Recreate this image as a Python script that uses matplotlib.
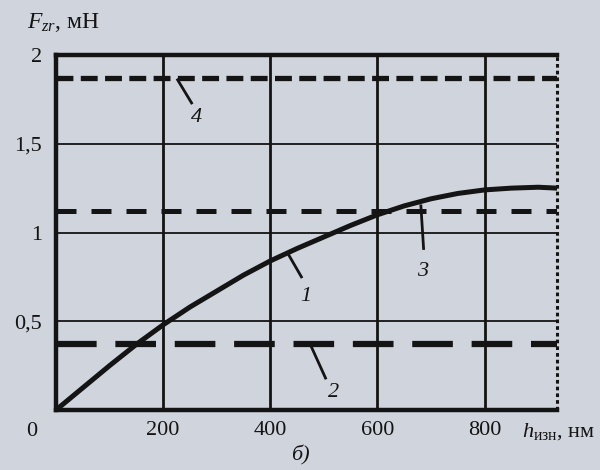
"""
Зависимость силы F_zr от глубины износа h_изн (рис. б)
"""

import matplotlib
matplotlib.use('Agg')
import matplotlib.pyplot as plt
import numpy as np

plt.rcParams['font.family'] = ['Liberation Serif', 'DejaVu Serif']
plt.rcParams['mathtext.fontset'] = 'custom'
plt.rcParams['mathtext.rm'] = 'Liberation Serif'
plt.rcParams['mathtext.it'] = 'Liberation Serif:italic'

# данные
h_curve1 = [0, 50, 100, 150, 200, 250, 300, 350, 400, 450, 500, 550, 600,
            650, 700, 750, 800, 850, 900, 935]
f_curve1 = [0, 0.125, 0.25, 0.37, 0.48, 0.58, 0.67, 0.76, 0.84, 0.91, 0.975,
            1.04, 1.10, 1.15, 1.19, 1.22, 1.24, 1.25, 1.255, 1.25]

h_flat = [0, 935]
f_curve2 = [0.37, 0.37]
f_curve3 = [1.12, 1.12]
f_curve4 = [1.87, 1.87]

x_ticks = [200, 400, 600, 800]
y_ticks = [0.5, 1, 1.5, 2]
y_tick_labels = ['0,5', '1', '1,5', '2']
h_max = 935

bg = '#d0d4dd'
ink = '#141414'

fig = plt.figure(figsize=(6, 4.7), dpi=100, facecolor=bg)
ax = fig.add_axes([56/600, 1 - 410/470, (557 - 56)/600, (410 - 55)/470])
ax.set_facecolor(bg)

# сетка
for xv in x_ticks:
    ax.axvline(xv, color=ink, lw=2.0, zorder=1)
for yv in [0.5, 1, 1.5]:
    ax.axhline(yv, color=ink, lw=1.3, zorder=1)

# кривые
ax.plot(h_curve1, f_curve1, color=ink, lw=3.6, solid_joinstyle='round',
        solid_capstyle='round', zorder=3)
ax.plot(h_flat, f_curve2, color=ink, lw=4.5, dashes=(6.5, 3), zorder=3)
ax.plot(h_flat, f_curve3, color=ink, lw=3.6, dashes=(4, 3), zorder=3)
ax.plot(h_flat, f_curve4, color=ink, lw=3.8, dashes=(3.2, 1.4), zorder=3)

# рамка
for side in ['left', 'bottom', 'top']:
    ax.spines[side].set_linewidth(3.2)
    ax.spines[side].set_color(ink)
ax.spines['right'].set_visible(False)
ax.plot([h_max, h_max], [0, 2], color=ink, lw=2.2, dashes=(1.2, 1.0),
        clip_on=False, zorder=4)

ax.set_xlim(0, h_max)
ax.set_ylim(0, 2)
ax.set_xticks(x_ticks)
ax.set_xticklabels([str(v) for v in x_ticks])
ax.set_yticks(y_ticks)
ax.set_yticklabels(y_tick_labels)
ax.tick_params(axis='both', length=0, labelsize=16, colors=ink)
ax.tick_params(axis='x', pad=8)
ax.tick_params(axis='y', pad=10)

# выноски с номерами кривых
leaders = [
    ('1', (435, 0.87), (458, 0.75), (467, 0.64)),
    ('2', (476, 0.36), (503, 0.18), (518, 0.10)),
    ('3', (681, 1.15), (686, 0.91), (684, 0.78)),
    ('4', (227, 1.86), (253, 1.73), (262, 1.65)),
]
for num, p0, p1, pt in leaders:
    ax.plot([p0[0], p1[0]], [p0[1], p1[1]], color=ink, lw=2.0, zorder=4)
    ax.text(pt[0], pt[1], num, fontsize=16, style='italic', color=ink,
            ha='center', va='center', zorder=4)

# подписи
fig.text(32/600, 1 - 432/470, '0', fontsize=16, color=ink, ha='center', va='center')
fig.text(27/600, 1 - 22/470, r'$F_{zr}$, мН', fontsize=17, color=ink,
         ha='left', va='center')
fig.text(522/600, 1 - 432/470, r'$h_{\mathrm{изн}}$, нм', fontsize=16, color=ink,
         ha='left', va='center')
fig.text(300/600, 1 - 455/470, 'б)', fontsize=16, style='italic', color=ink,
         ha='center', va='center')

plt.savefig('out.png', dpi=100, facecolor=bg)
plt.close()
